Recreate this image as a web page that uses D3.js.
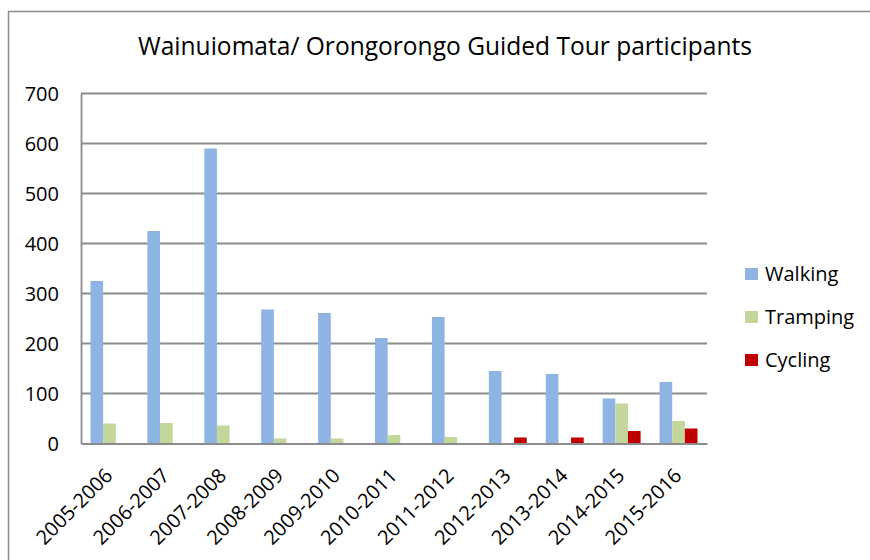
<!DOCTYPE html>
<html>
<head>
<meta charset="utf-8">
<script src="https://cdn.jsdelivr.net/npm/d3@7"></script>
<style>
  html, body { margin: 0; padding: 0; background: #fff; }
  svg { display: block; }
  text { font-family: "Open Sans", Lato, sans-serif; fill: #000; }
</style>
</head>
<body>
<svg id="chart" width="870" height="560"></svg>
<script>
const title = "Wainuiomata/ Orongorongo Guided Tour participants";
const categories = ["2005-2006","2006-2007","2007-2008","2008-2009","2009-2010","2010-2011","2011-2012","2012-2013","2013-2014","2014-2015","2015-2016"];
const seriesNames = ["Walking","Tramping","Cycling"];
const walking  = [325, 425, 590, 268, 261, 211, 253, 145, 139, 90, 123];
const tramping = [40, 41, 36, 10, 10, 17, 13, 0, 0, 80, 45];
const cycling  = [0, 0, 0, 0, 0, 0, 0, 12, 12, 25, 30];
const yTicks = [0, 100, 200, 300, 400, 500, 600, 700];
const colors = ["#8EB4E3", "#C3D69B", "#C00000"];

const seriesValues = [walking, tramping, cycling];
const svg = d3.select("#chart");
const FONT = "'Open Sans', Lato, sans-serif";

// outer chart border
svg.append("rect").attr("x", 8.5).attr("y", 11.5).attr("width", 900).attr("height", 600)
  .attr("fill", "none").attr("stroke", "#8c8c8c").attr("stroke-width", 1.5);

const plot = {left: 81, right: 707, top: 93.5, bottom: 443.5};

const x = d3.scaleBand().domain(categories).range([plot.left, plot.right]).paddingInner(0).paddingOuter(0);
const x1 = d3.scaleBand().domain(seriesNames).range([0, x.bandwidth()]).paddingInner(0).paddingOuter(0.75);
const y = d3.scaleLinear().domain([0, 700]).range([plot.bottom, plot.top]);

// gridlines
svg.append("g").selectAll("line").data(yTicks.filter(t => t > 0)).join("line")
  .attr("x1", plot.left).attr("x2", plot.right)
  .attr("y1", d => y(d)).attr("y2", d => y(d))
  .attr("stroke", "#8c8c8c").attr("stroke-width", 1.8);

// bars
const groups = svg.append("g").selectAll("g").data(seriesNames).join("g")
  .attr("fill", (d, i) => colors[i]);
groups.each(function(name, si) {
  d3.select(this).selectAll("rect").data(seriesValues[si]).join("rect")
    .attr("x", (d, i) => x(categories[i]) + x1(name))
    .attr("width", x1.bandwidth())
    .attr("y", d => y(d))
    .attr("height", d => y(0) - y(d));
});

// y axis
const yAxis = d3.axisLeft(y).tickValues(yTicks).tickSize(0).tickPadding(22);
const yg = svg.append("g").attr("transform", `translate(${plot.left},0)`).call(yAxis);
yg.select(".domain").attr("stroke", "#8c8c8c").attr("stroke-width", 1.8);
yg.selectAll("text").attr("font-size", 20).attr("font-family", FONT).attr("dy", "0.35em");

// x axis
const xAxis = d3.axisBottom(x).tickSize(0).tickPadding(0);
const xg = svg.append("g").attr("transform", `translate(0,${plot.bottom})`).call(xAxis);
xg.select(".domain").attr("stroke", "#8c8c8c").attr("stroke-width", 1.8);
xg.selectAll("text")
  .attr("font-size", 20).attr("font-family", FONT)
  .attr("text-anchor", "end")
  .attr("dy", null).attr("y", null)
  .attr("transform", "translate(-1,28) rotate(-45)")
  .attr("dominant-baseline", "central");

// title
const t = svg.append("text").attr("x", 445).attr("y", 55).attr("text-anchor", "middle")
  .attr("font-family", FONT).attr("font-size", 24).text(title);
const tw = t.node().getComputedTextLength();
t.attr("font-size", 24 * 614 / tw);

// legend
const legend = svg.append("g").selectAll("g").data(seriesNames).join("g")
  .attr("transform", (d, i) => `translate(745,${274 + i * 43})`);
legend.append("rect").attr("x", 0).attr("y", -6).attr("width", 13).attr("height", 12)
  .attr("fill", (d, i) => colors[i]);
legend.append("text").attr("x", 20).attr("y", 0).attr("dy", "0.35em")
  .attr("font-family", FONT).attr("font-size", 20).text(d => d);
</script>
</body>
</html>
